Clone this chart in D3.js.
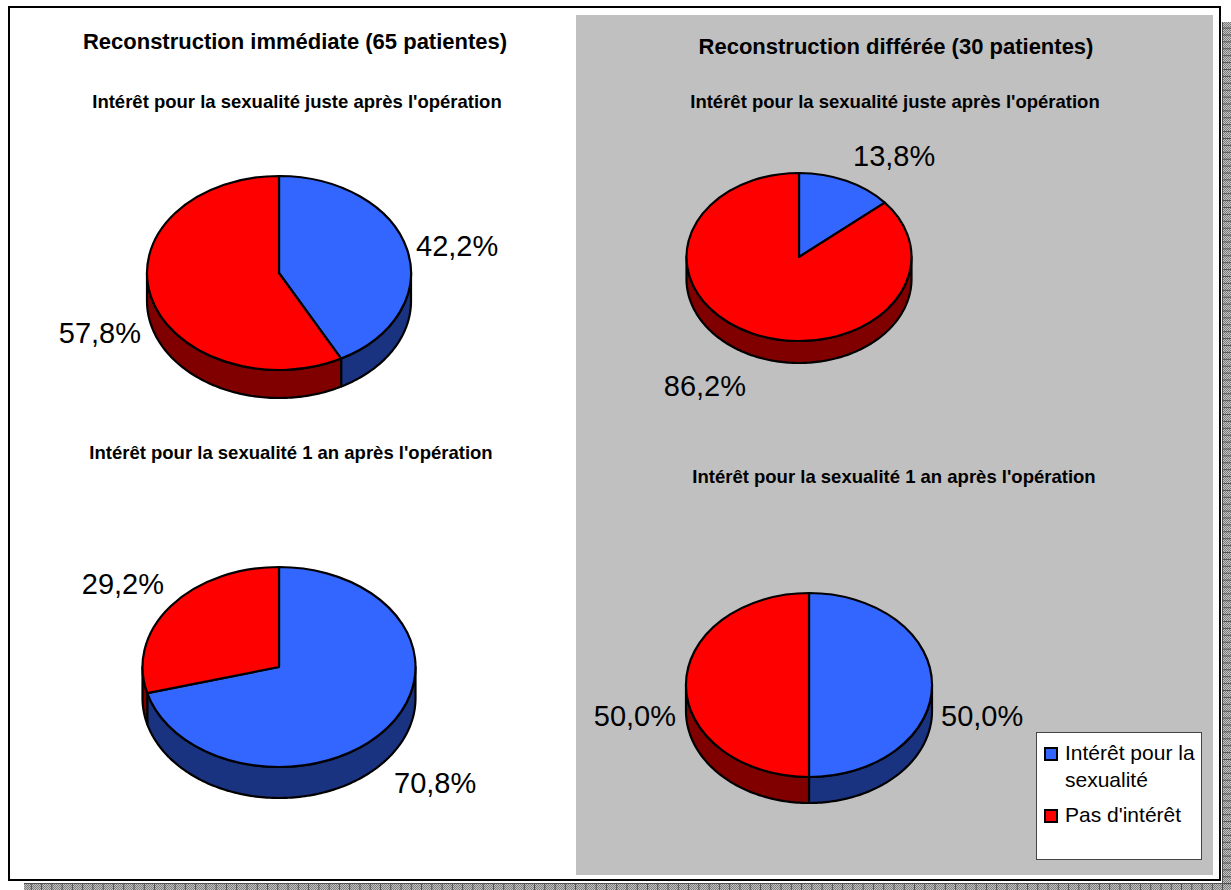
<!DOCTYPE html>
<html>
<head>
<meta charset="utf-8">
<script src="https://cdn.jsdelivr.net/npm/d3@7"></script>
<style>
  body { margin: 0; background: #fff; }
  svg { display: block; }
  text { font-family: Arial, "Liberation Sans", sans-serif; fill: #000; }
</style>
</head>
<body>
<svg id="chart" width="1231" height="890"></svg>
<script>
// ---- data ----
const categories = ["Intérêt pour la sexualité", "Pas d'intérêt"];
const legendLines = [["Intérêt pour la", "sexualité"], ["Pas d'intérêt"]];
const groupTitles = ["Reconstruction immédiate (65 patientes)", "Reconstruction différée (30 patientes)"];
const periodTitles = ["Intérêt pour la sexualité juste après l'opération", "Intérêt pour la sexualité 1 an après l'opération"];
const immediateJuste = [42.2, 57.8];
const immediateUnAn  = [70.8, 29.2];
const differeeJuste  = [13.8, 86.2];
const differeeUnAn   = [50.0, 50.0];

// ---- styling ----
const topColors  = d3.scaleOrdinal().domain(categories).range(["#3366FF", "#FF0000"]);
const sideColors = d3.scaleOrdinal().domain(categories).range(["#1A3380", "#800000"]);
const fmt = v => d3.format(".1f")(v).replace(".", ",") + "%";

const svg = d3.select("#chart");
const defs = svg.append("defs");

// dithered drop shadow of the frame
const dots = defs.append("pattern").attr("id", "dots")
  .attr("width", 2).attr("height", 2).attr("patternUnits", "userSpaceOnUse");
dots.append("rect").attr("width", 2).attr("height", 2).attr("fill", "#c4c4c4");
dots.append("rect").attr("width", 1).attr("height", 1).attr("fill", "#7a7a7a");
dots.append("rect").attr("x", 1).attr("y", 1).attr("width", 1).attr("height", 1).attr("fill", "#7a7a7a");

const vlines = defs.append("pattern").attr("id", "vlines")
  .attr("width", 10.27).attr("height", 10).attr("patternUnits", "userSpaceOnUse");
vlines.append("rect").attr("width", 1).attr("height", 10).attr("fill", "#505050");
const hlines = defs.append("pattern").attr("id", "hlines")
  .attr("width", 10).attr("height", 6.9).attr("patternUnits", "userSpaceOnUse");
hlines.append("rect").attr("width", 10).attr("height", 1).attr("fill", "#505050");

svg.append("rect").attr("x", 24).attr("y", 883).attr("width", 1207).attr("height", 7).attr("fill", "url(#dots)");
svg.append("rect").attr("x", 24).attr("y", 883).attr("width", 1207).attr("height", 7).attr("fill", "url(#vlines)");
svg.append("rect").attr("x", 1222).attr("y", 22).attr("width", 9).attr("height", 868).attr("fill", "url(#dots)");
svg.append("rect").attr("x", 1222).attr("y", 22).attr("width", 9).attr("height", 868).attr("fill", "url(#hlines)");
svg.append("rect").attr("x", 24).attr("y", 883).attr("width", 1207).attr("height", 1).attr("fill", "#505050");
svg.append("rect").attr("x", 1222).attr("y", 22).attr("width", 1).attr("height", 868).attr("fill", "#505050");

// frame
svg.append("rect").attr("x", 9).attr("y", 7).attr("width", 1211).attr("height", 873)
  .attr("fill", "#fff").attr("stroke", "#000").attr("stroke-width", 2);

// grey panel of the delayed reconstruction group
svg.append("rect").attr("x", 576).attr("y", 15).attr("width", 637).attr("height", 860)
  .attr("fill", "#C0C0C0");

// ---- titles ----
const titles = [
  { text: groupTitles[0], x: 295, y: 49, size: 22 },
  { text: groupTitles[1], x: 896, y: 54, size: 22 },
  { text: periodTitles[0], x: 297, y: 108, size: 18.5 },
  { text: periodTitles[0], x: 895, y: 108, size: 18.5 },
  { text: periodTitles[1], x: 291, y: 459, size: 18.5 },
  { text: periodTitles[1], x: 894, y: 483, size: 18.5 }
];
svg.selectAll("text.title").data(titles).join("text")
  .attr("class", "title")
  .attr("x", d => d.x).attr("y", d => d.y)
  .attr("text-anchor", "middle")
  .attr("font-weight", "bold")
  .attr("font-size", d => d.size)
  .text(d => d.text);

// ---- 3D pies ----
const pies = [
  { values: immediateJuste, cx: 279, cy: 273, rx: 132,   ry: 97,  depth: 28,
    labels: [{ x: 416, y: 256, anchor: "start" }, { x: 141, y: 343, anchor: "end" }] },
  { values: differeeJuste,  cx: 799, cy: 257, rx: 112.5, ry: 84,  depth: 22,
    labels: [{ x: 853, y: 166, anchor: "start" }, { x: 746, y: 396, anchor: "end" }] },
  { values: immediateUnAn,  cx: 279, cy: 667, rx: 136.5, ry: 100, depth: 31,
    labels: [{ x: 394, y: 793, anchor: "start" }, { x: 164, y: 594, anchor: "end" }] },
  { values: differeeUnAn,   cx: 809, cy: 685, rx: 123,   ry: 92,  depth: 26,
    labels: [{ x: 941, y: 726, anchor: "start" }, { x: 676, y: 726, anchor: "end" }] }
];

const pieGen = d3.pie().sort(null).value(d => d.value);

pies.forEach(p => {
  const data = categories.map((c, i) => ({ cat: c, value: p.values[i] }));
  const arcs = pieGen(data);
  const g = svg.append("g");

  // point on the top ellipse; angle measured clockwise from 12 o'clock
  const pt = (a, dy = 0) => [p.cx + p.rx * Math.sin(a), p.cy - p.ry * Math.cos(a) + dy];

  // visible side wall (front half of the disc)
  const line = d3.line();
  arcs.forEach(a => {
    const lo = Math.max(a.startAngle, Math.PI / 2);
    const hi = Math.min(a.endAngle, 3 * Math.PI / 2);
    if (hi <= lo) return;
    const n = Math.max(2, Math.ceil((hi - lo) / 0.02));
    const angles = d3.range(n + 1).map(i => lo + (hi - lo) * i / n);
    const pts = angles.map(t => pt(t)).concat(angles.slice().reverse().map(t => pt(t, p.depth)));
    g.append("path")
      .attr("d", line(pts) + "Z")
      .attr("fill", sideColors(a.data.cat))
      .attr("stroke", "#000").attr("stroke-width", 2.2).attr("stroke-linejoin", "round");
  });

  // top face
  const arcGen = d3.arc().innerRadius(0).outerRadius(p.rx);
  g.append("g")
    .attr("transform", `translate(${p.cx},${p.cy}) scale(1,${p.ry / p.rx})`)
    .selectAll("path").data(arcs).join("path")
    .attr("d", arcGen)
    .attr("fill", d => topColors(d.data.cat))
    .attr("stroke", "#000").attr("stroke-width", 2.2)
    .attr("stroke-linejoin", "round")
    .attr("vector-effect", "non-scaling-stroke");

  // value labels
  g.selectAll("text").data(arcs).join("text")
    .attr("x", (d, i) => p.labels[i].x)
    .attr("y", (d, i) => p.labels[i].y)
    .attr("text-anchor", (d, i) => p.labels[i].anchor)
    .attr("font-size", 29)
    .text(d => fmt(d.data.value));
});

// ---- legend ----
const lg = svg.append("g");
lg.append("rect").attr("x", 1036.5).attr("y", 732.5).attr("width", 165).attr("height", 127)
  .attr("fill", "#fff").attr("stroke", "#444").attr("stroke-width", 1);
const legendItems = categories.map((c, i) => ({ cat: c, lines: legendLines[i], y: [760, 822][i] }));
const li = lg.selectAll("g.item").data(legendItems).join("g").attr("class", "item");
li.append("rect")
  .attr("x", 1045).attr("y", d => d.y - 12).attr("width", 12).attr("height", 12)
  .attr("fill", d => topColors(d.cat)).attr("stroke", "#000").attr("stroke-width", 2);
li.append("text")
  .attr("x", 1065).attr("y", d => d.y)
  .attr("font-size", 21)
  .selectAll("tspan").data(d => d.lines).join("tspan")
  .attr("x", 1065).attr("dy", (d, i) => i === 0 ? 0 : 27)
  .text(d => d);
</script>
</body>
</html>
